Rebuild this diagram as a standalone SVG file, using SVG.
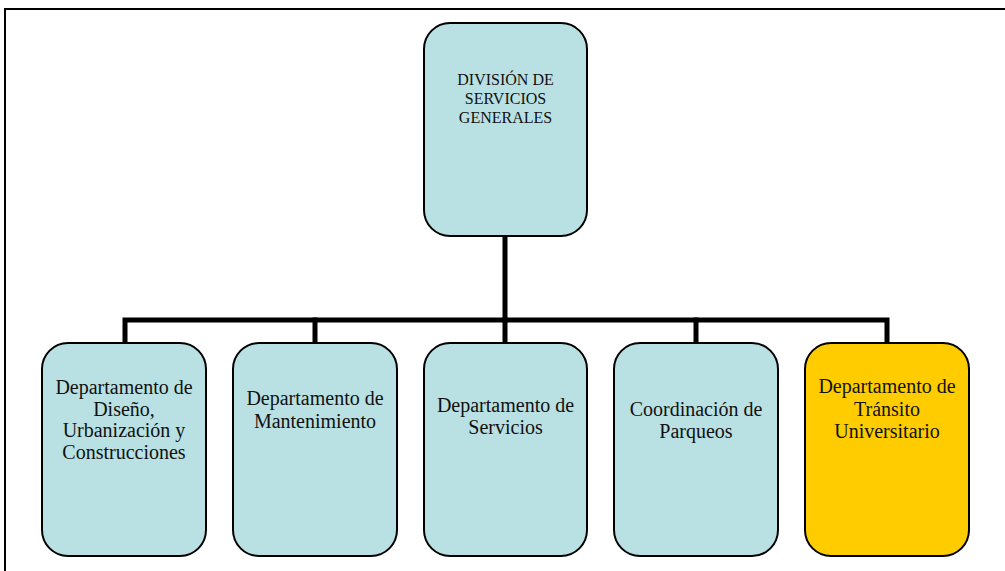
<svg xmlns="http://www.w3.org/2000/svg" width="1005" height="571" viewBox="0 0 1005 571">
  <style>
    .box { fill: #b9e0e2; stroke: #000; stroke-width: 2; }
    .box.hl { fill: #ffcc00; }
    .lbl { font-family: "Liberation Serif", "Times New Roman", serif; font-size: 20px; fill: #111; text-anchor: middle; }
    .lbl.top { font-size: 16px; }
    .wire { fill: none; stroke: #000; stroke-width: 5; stroke-linecap: square; }
    .frame { fill: none; stroke: #000; stroke-width: 2; }
  </style>
  <rect width="1005" height="571" fill="#fff"/>
  <!-- page frame -->
  <path class="frame" d="M5,571 V9 H1005"/>

  <!-- connectors -->
  <g id="connectors">
    <path class="wire" d="M505,237 V320"/>
    <path class="wire" d="M125,342 V320 H887 V342"/>
    <path class="wire" d="M315,320 V342"/>
    <path class="wire" d="M505,320 V342"/>
    <path class="wire" d="M696,320 V342"/>
  </g>

  <g id="division">
    <rect class="box" x="424" y="23" width="163" height="213" rx="26"/>
    <text class="lbl top" x="505.5"><tspan x="505.5" y="85">DIVISIÓN DE</tspan><tspan x="505.5" y="104">SERVICIOS</tspan><tspan x="505.5" y="123">GENERALES</tspan></text>
  </g>

  <g id="diseno">
    <rect class="box" x="42" y="343" width="164" height="213" rx="26"/>
    <text class="lbl" x="124"><tspan x="124" y="394">Departamento de</tspan><tspan x="124" y="415.5">Diseño,</tspan><tspan x="124" y="437">Urbanización y</tspan><tspan x="124" y="459">Construcciones</tspan></text>
  </g>

  <g id="mantenimiento">
    <rect class="box" x="233" y="343" width="164" height="213" rx="26"/>
    <text class="lbl" x="315"><tspan x="315" y="405">Departamento de</tspan><tspan x="315" y="428">Mantenimiento</tspan></text>
  </g>

  <g id="servicios">
    <rect class="box" x="424" y="343" width="163" height="213" rx="26"/>
    <text class="lbl" x="505.5"><tspan x="505.5" y="412">Departamento de</tspan><tspan x="505.5" y="434">Servicios</tspan></text>
  </g>

  <g id="parqueos">
    <rect class="box" x="614" y="343" width="164" height="213" rx="26"/>
    <text class="lbl" x="696"><tspan x="696" y="416">Coordinación de</tspan><tspan x="696" y="438">Parqueos</tspan></text>
  </g>

  <g id="transito">
    <rect class="box hl" x="805" y="343" width="164" height="213" rx="26"/>
    <text class="lbl" x="887"><tspan x="887" y="393">Departamento de</tspan><tspan x="887" y="415.5">Tránsito</tspan><tspan x="887" y="438">Universitario</tspan></text>
  </g>
</svg>
